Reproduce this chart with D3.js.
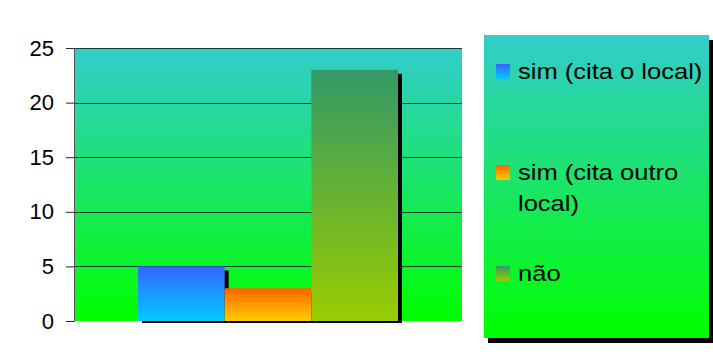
<!DOCTYPE html>
<html><head><meta charset="utf-8">
<script src="https://cdn.jsdelivr.net/npm/d3@7"></script>
<style>body{margin:0;background:#fff}svg{display:block}</style>
</head><body>
<svg id="c" width="713" height="361"></svg>
<script>
const categories = ["sim (cita o local)", "sim (cita outro local)", "não"];
const legendLines = [["sim (cita o local)"], ["sim (cita outro", "local)"], ["não"]];
const values = [5, 3, 23];
const ticks = [0, 5, 10, 15, 20, 25];
const gradTop = ["#3366FF", "#FF6600", "#339966"];
const gradBot = ["#00CCFF", "#FFCC00", "#99CC00"];

const svg = d3.select("#c");
const defs = svg.append("defs");
function lg(id, top, bot) {
  const g = defs.append("linearGradient").attr("id", id).attr("x1", 0).attr("y1", 0).attr("x2", 0).attr("y2", 1);
  g.append("stop").attr("offset", "0%").attr("stop-color", top);
  g.append("stop").attr("offset", "100%").attr("stop-color", bot);
}
lg("bg", "#33CCCC", "#00FF00");
categories.forEach((c, i) => lg("g" + i, gradTop[i], gradBot[i]));

const L = 74, R = 462, T = 48, B = 321;
const y = d3.scaleLinear().domain([0, 25]).range([B, T]);
const x = d3.scaleBand().domain(categories).range([138, 398]).paddingInner(0);

svg.append("rect").attr("x", L).attr("y", T).attr("width", R - L).attr("height", B - T).attr("fill", "url(#bg)");

// gridlines
svg.append("g").selectAll("line").data(ticks.filter(t => t > 0)).join("line")
  .attr("x1", L).attr("x2", R).attr("y1", d => Math.round(y(d)) + 0.5).attr("y2", d => Math.round(y(d)) + 0.5)
  .attr("stroke", "#1a3a2a").attr("stroke-width", 1);

// shadows
svg.append("g").selectAll("rect").data(values).join("rect")
  .attr("x", (d, i) => x(categories[i]) + 4)
  .attr("y", d => y(d) + 4)
  .attr("width", x.bandwidth())
  .attr("height", d => Math.max(0, B + 2 - (y(d) + 4)))
  .attr("fill", "#000");

// bars
svg.append("g").selectAll("rect").data(values).join("rect")
  .attr("x", (d, i) => x(categories[i]))
  .attr("y", d => y(d))
  .attr("width", x.bandwidth())
  .attr("height", d => B - y(d))
  .attr("fill", (d, i) => `url(#g${i})`);

// axis
const ax = svg.append("g").attr("transform", `translate(${L},0)`)
  .call(d3.axisLeft(y).tickValues(ticks).tickSize(8).tickPadding(12));
ax.select(".domain").attr("stroke", "#555");
ax.selectAll(".tick line").attr("stroke", "#222");
ax.selectAll("text").attr("font-family", "'Liberation Sans', Arial, sans-serif").attr("font-size", 22).attr("fill", "#000");

// legend
const lx = 484, ly = 35, lw = 225, lh = 303;
svg.append("rect").attr("x", lx + 4).attr("y", ly + 5).attr("width", lw).attr("height", lh).attr("fill", "#000");
svg.append("rect").attr("x", lx).attr("y", ly).attr("width", lw).attr("height", lh).attr("fill", "url(#bg)");
const swY = [64, 165, 266];
const leg = svg.append("g");
legendLines.forEach((lines, i) => {
  leg.append("rect").attr("x", 496).attr("y", swY[i]).attr("width", 14).attr("height", 15).attr("fill", `url(#g${i})`);
  lines.forEach((t, j) => {
    const tx = leg.append("text").attr("x", 518).attr("y", swY[i] + 15 + j * 31)
      .attr("font-family", "'Liberation Sans', Arial, sans-serif").attr("font-size", 22).attr("fill", "#000")
      .text(t);
    const w = tx.node().getComputedTextLength();
    tx.attr("textLength", w * 1.16).attr("lengthAdjust", "spacingAndGlyphs");
  });
});
</script>
</body></html>
